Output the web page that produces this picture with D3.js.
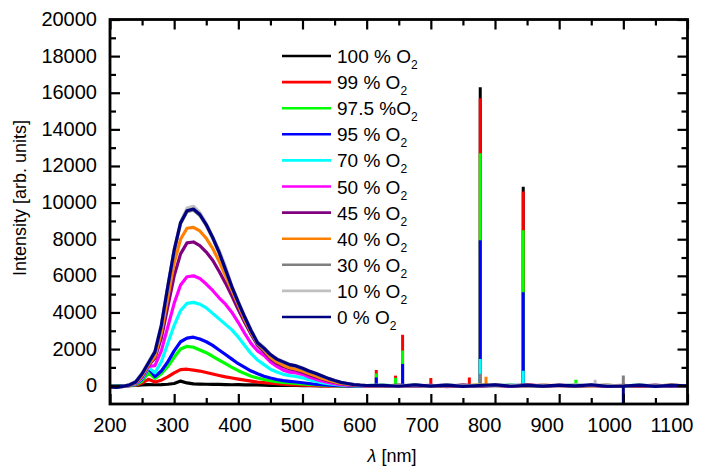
<!DOCTYPE html>
<html><head><meta charset="utf-8">
<script src="https://cdn.jsdelivr.net/npm/d3@7"></script>
<style>body{margin:0;background:#fff}svg{display:block}</style>
</head><body>
<svg id="c" width="716" height="476"></svg>
<script>
// ---------- DATA ----------
const wavelength = [200,210,220,230,240,250,260,270,280,290,300,310,320,330,340,350,360,370,380,390,400,410,420,430,440,450,460,470,480,490,500,510,520,530,540,550,560,570,580,590,600,
  625,650,675,700,725,750,775,800,825,850,875,900,925,950,975,1000,1025,1050,1075,1100];

const i100 = [-20,-10,0,10,20,40,60,50,60,80,120,250,150,100,90,80,70,70,60,50,60,40,50,40,30,20,30,10,20,10,0,10,0,-10,10,0,-10,0,10,0,0,
  0,10,-10,10,0,-10,10,0,-10,10,0,-10,10,0,-10,10,0,-10,10,0];
const i99 = [-20,-30,-10,0,20,150,350,200,300,480,700,880,900,850,800,720,640,560,480,420,360,300,250,200,170,140,110,90,60,40,30,10,0,-10,-20,-10,0,-10,0,-20,0,
  -10,20,-20,10,-30,20,-10,10,-20,30,-10,20,-20,10,-10,20,-30,10,-20,10];
const i975 = [-30,-30,-10,0,50,250,700,400,650,1050,1550,2000,2150,2100,1950,1800,1600,1400,1200,1000,820,660,520,420,340,270,220,180,150,130,100,70,50,30,10,0,-10,0,-10,0,0,
  20,-10,10,-20,20,-10,30,-10,20,-20,10,-10,20,-20,10,-10,20,-30,10,-10];
const i95 = [-30,-40,-20,0,80,350,950,500,800,1300,1900,2400,2600,2650,2550,2400,2200,1950,1700,1450,1200,1000,800,650,520,420,340,280,240,200,160,120,80,50,30,10,0,-10,0,-10,0,
  10,-20,20,-10,30,-20,10,-30,20,-10,20,-20,10,-10,20,-30,10,-20,20,-10];
const i70 = [-40,-40,-20,10,100,400,1000,700,1300,2300,3300,4100,4500,4550,4450,4250,3950,3650,3350,3050,2650,2200,1750,1400,1150,900,750,620,550,500,430,330,240,170,110,70,30,10,0,-10,0,
  20,-10,30,-20,10,-30,20,-10,30,-20,10,-10,30,-20,20,-10,30,-20,10,-10];
const i50 = [-40,-50,-30,20,120,450,1050,1100,1900,3200,4500,5500,5950,6000,5850,5550,5200,4800,4450,4000,3450,2850,2300,1900,1650,1300,1050,850,740,700,620,480,360,260,180,110,60,30,10,0,-10,
  -40,10,-30,20,-50,20,-20,10,-40,20,-10,-30,20,-20,10,-30,20,-40,10,-20];
const i45 = [-50,-60,-20,30,150,500,1100,1500,2600,4300,6000,7200,7800,7850,7650,7300,6850,6250,5600,4900,4150,3450,2800,2200,1850,1480,1220,1050,920,850,740,600,480,370,260,180,110,60,30,10,0,
  -30,20,-40,10,-20,30,-30,20,-10,40,-20,10,-30,20,-40,10,-20,30,-30,10];
const i40 = [-40,-60,-30,20,150,550,1150,1600,2900,4800,6700,8000,8600,8650,8450,8050,7500,6800,6000,5200,4400,3600,2900,2300,1950,1550,1300,1120,980,900,800,660,540,410,300,200,130,80,40,20,0,
  10,-20,30,-30,20,-20,40,-10,20,-40,30,-10,20,-20,30,-30,10,-20,30,-10];
const i30 = [-70,-80,-50,30,180,620,1200,1800,3250,5350,7350,8850,9500,9600,9300,8750,8050,7250,6300,5350,4500,3700,2950,2300,2000,1680,1430,1280,1130,1060,930,780,660,520,390,270,170,110,50,20,0,
  -20,30,-10,20,-30,30,-20,50,-10,30,-40,20,-20,30,10,-30,20,-10,30,-20];
const i10 = [-50,-70,-30,60,250,700,1300,1900,3350,5450,7450,8950,9700,9800,9450,8850,8150,7400,6500,5450,4600,3800,3050,2400,2100,1720,1480,1320,1170,1100,970,820,690,550,410,290,190,120,70,30,10,
  30,-20,20,-30,40,-10,30,-40,20,-30,30,-20,40,-10,20,-30,40,-20,10,-30];
const i0 = [-60,-90,-40,40,200,650,1250,1850,3300,5400,7400,8900,9550,9650,9350,8800,8100,7300,6350,5400,4550,3750,3000,2350,2050,1700,1450,1300,1150,1080,950,800,680,540,400,280,180,120,60,30,10,
  20,-30,40,-20,30,-40,10,40,-30,20,-20,30,-10,40,-30,-20,30,-40,20,-10];

// narrow atomic lines: [wavelength, intensity]
const spikes100 = [[777,16300],[844,10870]];
const spikes99 = [[615,860],[645,550],[656,2780],[700,420],[760,450],[777,15700],[844,10600]];
const spikes975 = [[615,670],[645,430],[656,1920],[777,12700],[844,8490],[926,330]];
const spikes95 = [[615,450],[656,1190],[777,7950],[844,5110]];
const spikes70 = [[777,1460],[844,820]];
const spikes50 = [];
const spikes45 = [];
const spikes40 = [[786,490]];
const spikes30 = [[777,650],[1000,550]];
const spikes10 = [[956,330]];
const spikes0 = [[1000,-1000]];

const legendLabels = ["100 % O","99 % O","97.5 %O","95 % O","70 % O","50 % O","45 % O","40 % O","30 % O","10 % O","0 % O"];
const seriesValues = [i100,i99,i975,i95,i70,i50,i45,i40,i30,i10,i0];
const seriesSpikes = [spikes100,spikes99,spikes975,spikes95,spikes70,spikes50,spikes45,spikes40,spikes30,spikes10,spikes0];
const colors = ["#000000","#ff0000","#00ff00","#0000ff","#00ffff","#ff00ff","#800080","#ff8000","#808080","#c0c0c0","#000080"];

const xMajor = [200,300,400,500,600,700,800,900,1000,1100];
const xMinor = [250,350,450,550,650,750,850,950,1050];
const yMajor = [0,2000,4000,6000,8000,10000,12000,14000,16000,18000,20000];
const yMinor = [1000,3000,5000,7000,9000,11000,13000,15000,17000,19000];

// ---------- LAYOUT ----------
const L = 110, R = 687.5, T = 19.5, B = 404;
const FONT = "'Liberation Sans', Arial, sans-serif";
const svg = d3.select("#c");
const x = d3.scaleLinear().domain([200,1100]).range([L,R]);
const xLab = d3.scaleLinear().domain([200,1100]).range([L,672]);
const y = d3.scaleLinear().domain([-1000,20000]).range([B,T]);

svg.append("defs").append("clipPath").attr("id","clip")
  .append("rect").attr("x",L).attr("y",T).attr("width",R-L).attr("height",B-T);

const plot = svg.append("g").attr("clip-path","url(#clip)");
const line = d3.line().x(d=>x(d[0])).y(d=>y(d[1]));

seriesValues.forEach((vals,k)=>{
  const g = plot.append("g");
  const pts = wavelength.map((w,i)=>[w, vals[i]]);
  g.append("path").attr("d", line(pts)).attr("fill","none")
    .attr("stroke", colors[k]).attr("stroke-width",3.2).attr("stroke-linejoin","round");
  seriesSpikes[k].forEach(([w,h])=>{
    g.append("path").attr("d", line([[w,0],[w,h]])).attr("fill","none")
      .attr("stroke", colors[k]).attr("stroke-width",3);
  });
});

// ---------- AXES (ticks inward, mirrored) ----------
const ax = svg.append("g");
const tickW = 2.2;
function xt(vals, len){
  ax.append("g").attr("transform",`translate(0,${B})`)
    .call(d3.axisBottom(x).tickValues(vals).tickSize(-len).tickFormat(""))
    .call(g=>{g.select(".domain").remove(); g.selectAll("line").attr("stroke","#000").attr("stroke-width",tickW);});
  ax.append("g").attr("transform",`translate(0,${T})`)
    .call(d3.axisTop(x).tickValues(vals).tickSize(-len).tickFormat(""))
    .call(g=>{g.select(".domain").remove(); g.selectAll("line").attr("stroke","#000").attr("stroke-width",tickW);});
}
function yt(vals, len){
  ax.append("g").attr("transform",`translate(${L},0)`)
    .call(d3.axisLeft(y).tickValues(vals).tickSize(-len).tickFormat(""))
    .call(g=>{g.select(".domain").remove(); g.selectAll("line").attr("stroke","#000").attr("stroke-width",tickW);});
  ax.append("g").attr("transform",`translate(${R},0)`)
    .call(d3.axisRight(y).tickValues(vals).tickSize(-len).tickFormat(""))
    .call(g=>{g.select(".domain").remove(); g.selectAll("line").attr("stroke","#000").attr("stroke-width",tickW);});
}
xt(xMajor,10); xt(xMinor,6);
yt(yMajor,10); yt(yMinor,6);

svg.append("rect").attr("x",L).attr("y",T).attr("width",R-L).attr("height",B-T)
  .attr("fill","none").attr("stroke","#000").attr("stroke-width",2.8);

// tick labels
svg.append("g").selectAll("text").data(xMajor).join("text")
  .attr("x",d=>xLab(d)).attr("y",432).attr("text-anchor","middle")
  .attr("font-family",FONT).attr("font-size",20).attr("fill","#000").text(d=>d);
svg.append("g").selectAll("text").data(yMajor).join("text")
  .attr("x",97).attr("y",d=>y(d)+6.5).attr("text-anchor","end")
  .attr("font-family",FONT).attr("font-size",20).attr("fill","#000").text(d=>d);

// axis titles
const xt2 = svg.append("text").attr("x",392).attr("y",462).attr("text-anchor","middle")
  .attr("font-family",FONT).attr("font-size",18).attr("fill","#000");
xt2.append("tspan").attr("font-style","italic").text("λ");
xt2.append("tspan").text(" [nm]");
svg.append("text").attr("transform","translate(26,198) rotate(-90)").attr("text-anchor","middle")
  .attr("font-family",FONT).attr("font-size",18).attr("fill","#000").text("Intensity [arb. units]");

// legend
const lg = svg.append("g");
legendLabels.forEach((lab,i)=>{
  const cy = 56 + i*26.1;
  lg.append("line").attr("x1",282).attr("x2",331).attr("y1",cy).attr("y2",cy)
    .attr("stroke",colors[i]).attr("stroke-width",2.6);
  const t = lg.append("text").attr("x",337).attr("y",cy+7).attr("font-family",FONT)
    .attr("font-size",19).attr("fill","#000");
  t.append("tspan").text(lab);
  t.append("tspan").attr("font-size",12).attr("dy",6).text("2");
});
</script>
</body></html>
